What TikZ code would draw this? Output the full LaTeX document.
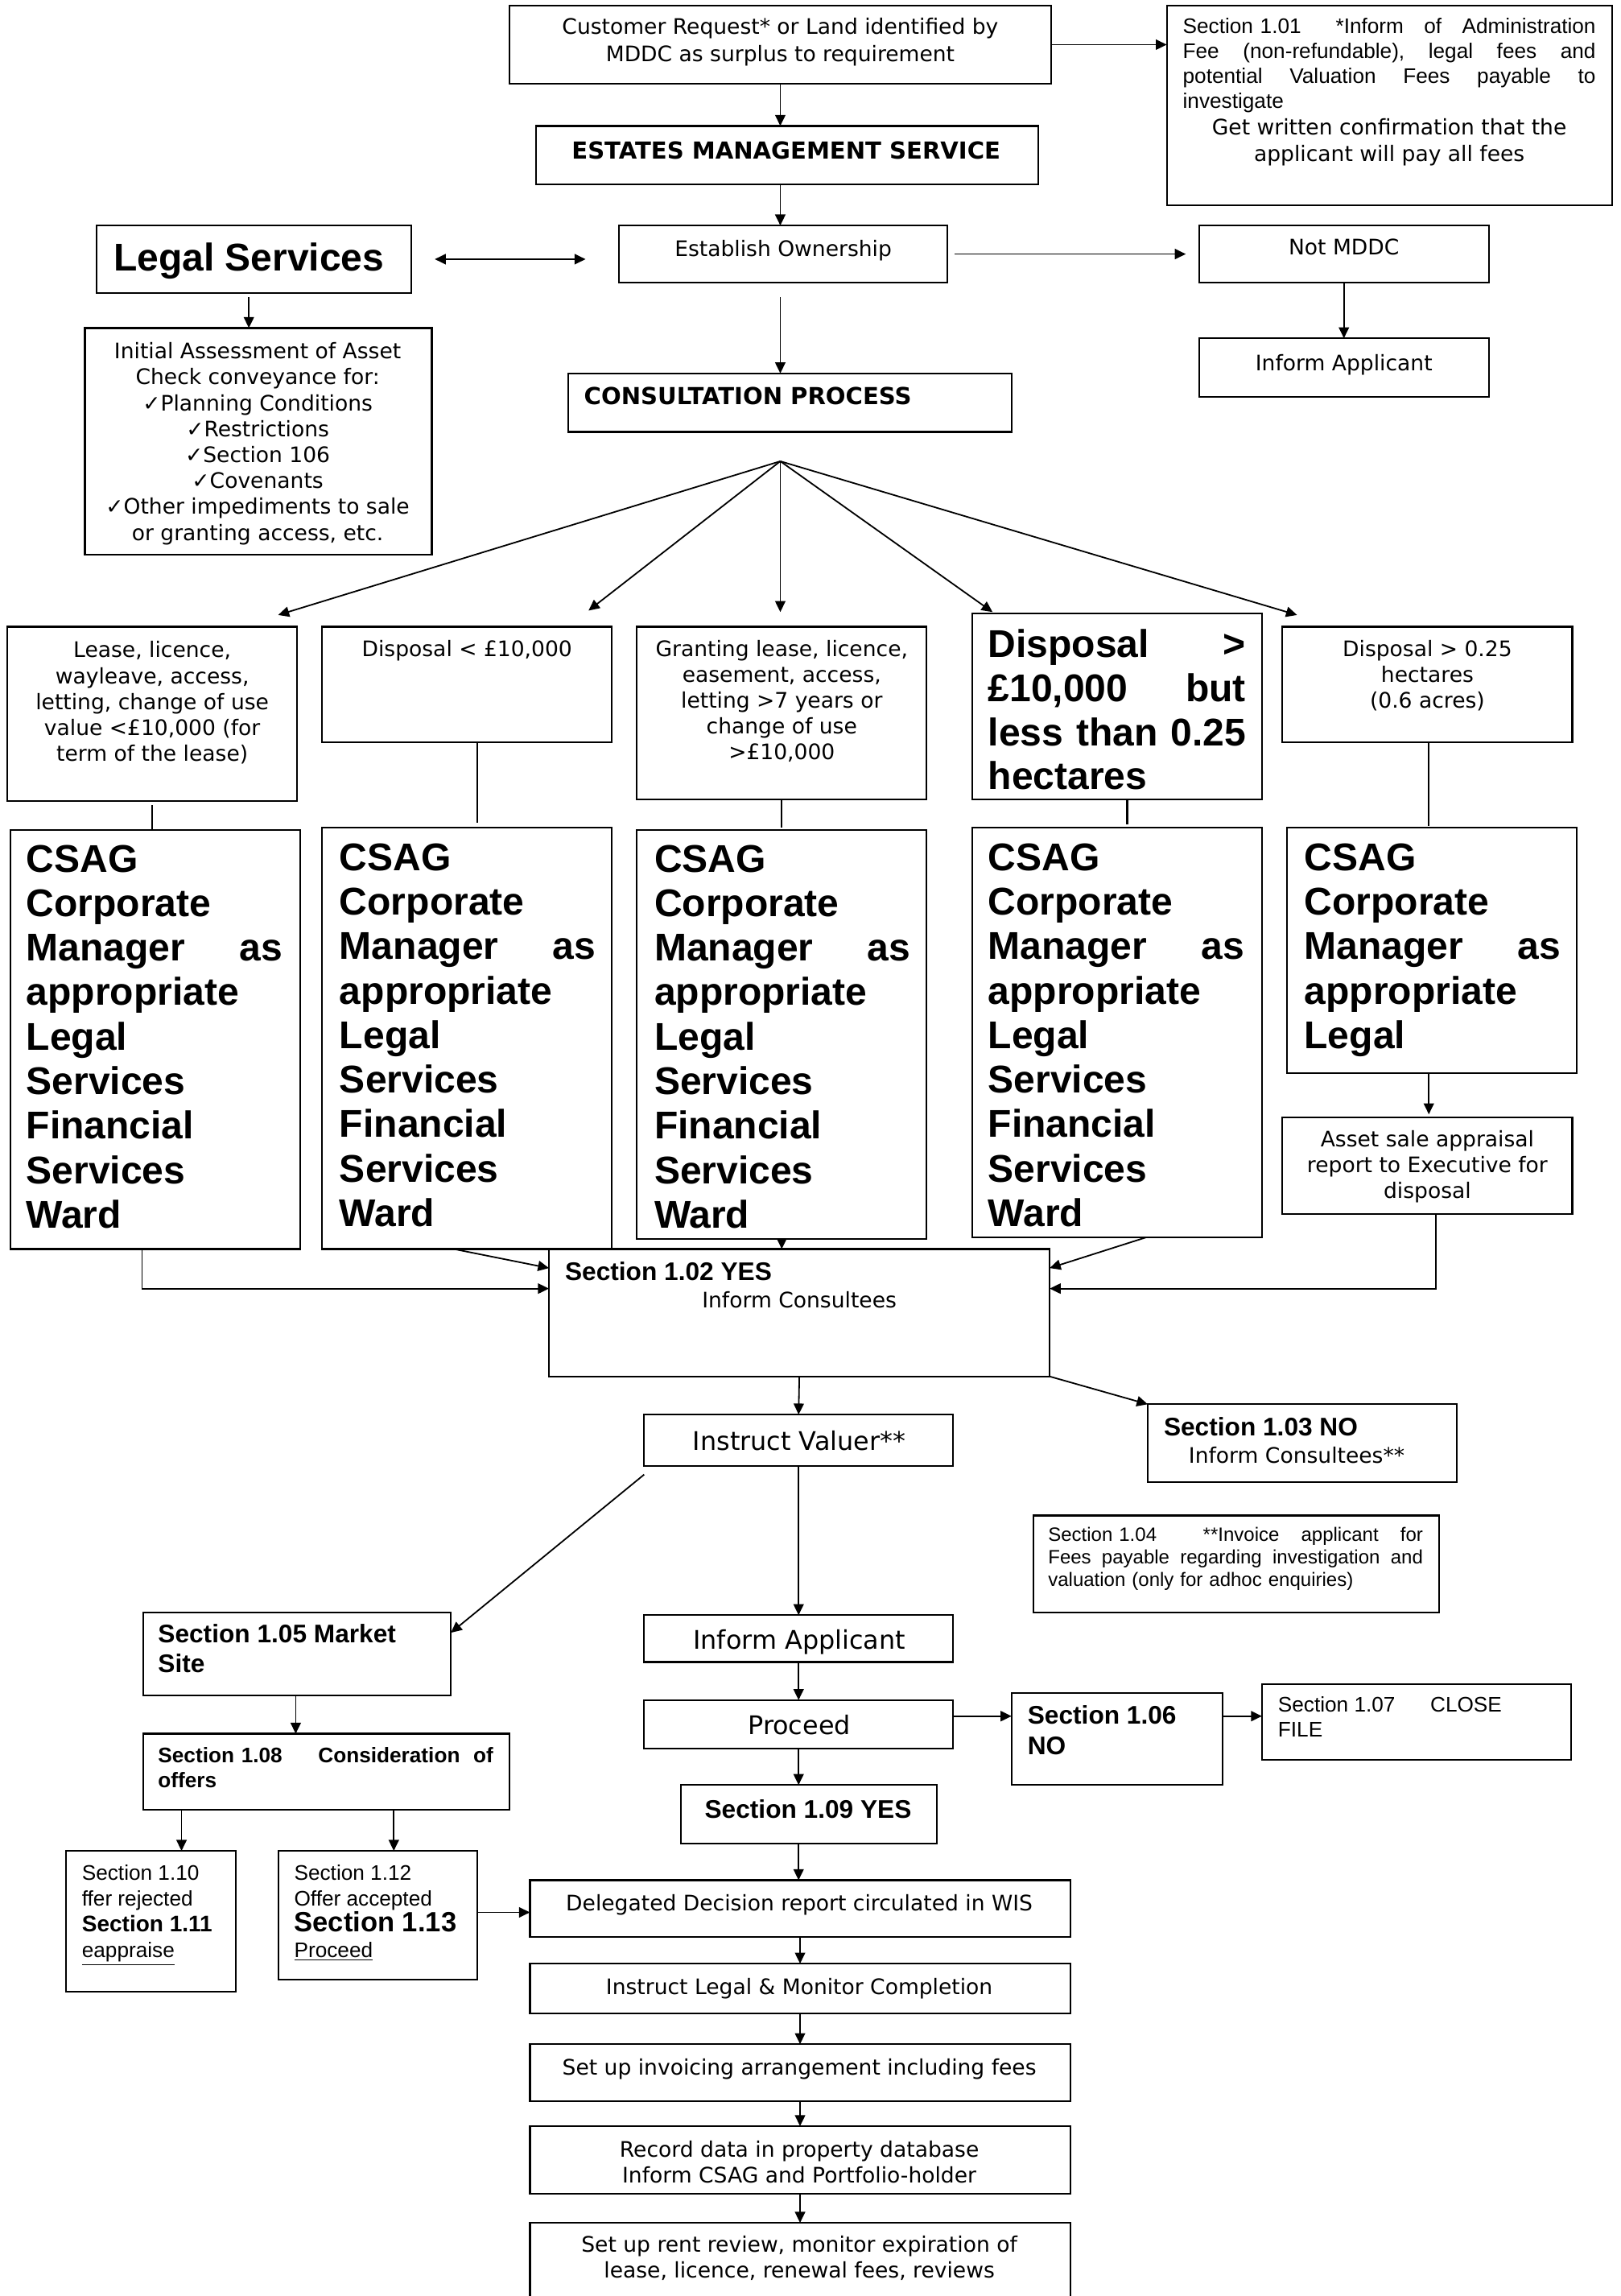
\documentclass[tikz,border=0pt]{standalone}
\usepackage{fontspec}
\setmainfont{DejaVu Sans}
\newfontfamily\arialf{Liberation Sans}
\usetikzlibrary{arrows.meta}
\newcommand\fv{\fontsize{14.6}{17.7}\selectfont}
\newcommand\fvb{\bfseries\fontsize{16}{19}\selectfont}
\newcommand\fvl{\fontsize{17.5}{21}\selectfont}
\newcommand\fa{\arialf\fontsize{14.4}{17}\selectfont}
\newcommand\fas{\arialf\fontsize{13.2}{15.5}\selectfont}
\newcommand\fab{\arialf\bfseries\fontsize{17.4}{20.5}\selectfont}
\newcommand\fabs{\arialf\bfseries\fontsize{14.4}{17}\selectfont}
\newcommand\fbig{\arialf\bfseries\fontsize{26.4}{30.4}\selectfont}
\newcommand\jw[2]{\makebox[#1][s]{#2}}
\newcommand\mgr{\jw{175pt}{Manager\hfill as}}
\newcommand\bx[5]{\node[boxs, minimum width=#4-#2, minimum height=#5-#3] (#1) at (#2,#3) {};}
\tikzset{
  boxs/.style={draw, line width=1.2pt, inner sep=0pt, outer sep=0pt, anchor=north west},
  txt/.style={inner sep=0pt, outer sep=0pt, anchor=north, align=center, font=\fv},
  txl/.style={inner sep=0pt, outer sep=0pt, anchor=north west, align=left, font=\fv},
  arr/.style={-{Triangle[length=7.5pt,width=7pt]}, line width=1pt},
  dbl/.style={{Triangle[length=7.5pt,width=7pt]}-{Triangle[length=7.5pt,width=7pt]}, line width=1.1pt},
  ln/.style={line width=0.9pt},
}
\begin{document}
\begin{tikzpicture}[x=1pt,y=-1pt]
\useasboundingbox (0,0) rectangle (1107,1568);
\clip (0,0) rectangle (1107,1568);
\fill[white] (0,0) rectangle (1107,1568);

% ---------- boxes ----------
\bx{cust}{348}{4}{718}{57}
\bx{sec101}{797}{4}{1101}{140}
\bx{ems}{366}{86}{709}{126}
\bx{estab}{423}{154}{647}{193}
\bx{legal}{66}{154}{281}{200}
\bx{notm}{819}{154}{1017}{193}
\bx{infa}{819}{231}{1017}{271}
\bx{initial}{58}{224}{295}{379}
\bx{consult}{388}{255}{691}{295}
\bx{b1}{5}{428}{203}{547}
\bx{b2}{220}{428}{418}{507}
\bx{b3}{435}{428}{633}{546}
\bx{b4}{664}{419}{862}{546}
\bx{b5}{876}{428}{1074}{507}
\bx{c1}{7}{567}{205}{853}
\bx{c2}{220}{565}{418}{853}
\bx{c3}{435}{567}{633}{846}
\bx{c4}{664}{565}{862}{845}
\bx{c5}{879}{565}{1077}{733}
\bx{asset}{876}{763}{1074}{829}
\bx{s102}{375}{853}{717}{940}
\bx{valuer}{440}{966}{651}{1001}
\bx{s103}{784}{959}{995}{1012}
\bx{s104}{706}{1035}{983}{1101}
\bx{s105}{98}{1101}{308}{1158}
\bx{infb}{440}{1103}{651}{1135}
\bx{proceed}{440}{1161}{651}{1194}
\bx{s106}{691}{1156}{835}{1219}
\bx{s107}{862}{1150}{1073}{1202}
\bx{s109}{465}{1219}{640}{1259}
\bx{s108}{98}{1184}{348}{1236}
\bx{s110}{45}{1264}{161}{1360}
\bx{s112}{190}{1264}{326}{1352}
\bx{deleg}{362}{1284}{731}{1323}
\bx{ilegal}{362}{1341}{731}{1375}
\bx{invoice}{362}{1396}{731}{1435}
\bx{record}{362}{1452}{731}{1498}
\bx{rent}{362}{1518}{731}{1580}

% ---------- texts ----------
\node[txt, font={\fontsize{14.6}{18.8}\selectfont}] (tcust) at (533,12) {Customer Request* or Land identified by\\MDDC as surplus to requirement};
\node[txl, text width=282pt, font=\fa] (t101a) at (808,12.5) {\jw{282pt}{Section 1.01\hspace{1em}\hfill *Inform \hfill of \hfill Administration}\\\jw{282pt}{Fee \hfill (non-refundable), \hfill legal \hfill fees \hfill and}\\\jw{282pt}{potential \hfill Valuation \hfill Fees \hfill payable \hfill to}\\investigate};
\node[txt, font={\fontsize{14.6}{18}\selectfont}] (t101b) at (949,81) {Get written confirmation that the\\applicant will pay all fees};
\node[txt, font=\fvb] (tems) at (537,96.5) {ESTATES MANAGEMENT SERVICE};
\node[txt] (testab) at (535,164) {Establish Ownership};
\node[txt, font=\fbig] (tlegal) at (170,166) {Legal Services};
\node[txt] (tnotm) at (918,163) {Not MDDC};
\node[txt] (tinfa) at (918,242) {Inform Applicant};
\node[txt] (tinit) at (176,234) {Initial Assessment of Asset\\Check conveyance for:\\✓Planning Conditions\\✓Restrictions\\✓Section 106\\✓Covenants\\✓Other impediments to sale\\or granting access, etc.};
\node[txl, font=\fvb] (tconsult) at (399,264.5) {CONSULTATION PROCESS};

\node[txt] (tb1) at (104,438) {Lease, licence,\\wayleave, access,\\letting, change of use\\value <£10,000 (for\\term of the lease)};
\node[txt] (tb2) at (319,437) {Disposal < £10,000};
\node[txt] (tb3) at (534,437) {Granting lease, licence,\\easement, access,\\letting >7 years or\\change of use\\>£10,000};
\node[txl, text width=176pt, font={\fbig\fontsize{26.4}{30}\selectfont}] (tb4) at (675,430) {\jw{176pt}{Disposal \hfill >}\\\jw{176pt}{£10,000 \hfill but}\\\jw{176pt}{less \hfill than \hfill 0.25}\\hectares};
\node[txt] (tb5) at (975,437) {Disposal > 0.25\\hectares\\(0.6 acres)};

\node[txl, text width=175pt, font=\fbig] (tc1) at (18,577) {CSAG\\Corporate\\\mgr\\appropriate\\Legal\\Services\\Financial\\Services\\Ward};
\node[txl, text width=175pt, font=\fbig] (tc2) at (232,576) {CSAG\\Corporate\\\mgr\\appropriate\\Legal\\Services\\Financial\\Services\\Ward};
\node[txl, text width=175pt, font=\fbig] (tc3) at (447,577) {CSAG\\Corporate\\\mgr\\appropriate\\Legal\\Services\\Financial\\Services\\Ward};
\node[txl, text width=175pt, font=\fbig] (tc4) at (675,576) {CSAG\\Corporate\\\mgr\\appropriate\\Legal\\Services\\Financial\\Services\\Ward};
\node[txl, text width=175pt, font=\fbig] (tc5) at (891,576) {CSAG\\Corporate\\\mgr\\appropriate\\Legal};
\node[txt] (tasset) at (975,772) {Asset sale appraisal\\report to Executive for\\disposal};

\node[txl, font=\fab] (t102) at (386,862) {Section 1.02 YES};
\node[txt] (t102b) at (546,882) {Inform Consultees};
\node[txt, font=\fvl] (tvaluer) at (546,977) {Instruct Valuer**};
\node[txl, font=\fab] (t103) at (795,968) {Section 1.03 NO};
\node[txl] (t103b) at (812,988) {Inform Consultees**};
\node[txl, text width=256pt, font=\fas] (t104) at (716,1043) {\jw{256pt}{Section 1.04\hspace{1.6em}\hfill **Invoice \hfill applicant \hfill for}\\\jw{256pt}{Fees \hfill payable \hfill regarding \hfill investigation \hfill and}\\valuation (only for adhoc enquiries)};
\node[txl, font=\fab] (t105) at (108,1109) {Section 1.05 Market\\Site};
\node[txt, font=\fvl] (tinfb) at (546,1113) {Inform Applicant};
\node[txt, font=\fvl] (tproceed) at (546,1171) {Proceed};
\node[txl, font=\fab] (t106) at (702,1165) {Section 1.06\\NO};
\node[txl, font=\fa] (t107) at (873,1158.5) {Section 1.07\hspace{24pt}CLOSE\\FILE};
\node[txt, font=\fab] (t109) at (552,1229) {Section 1.09 YES};
\node[txl, text width=229pt, font=\fabs] (t108) at (108,1193.5) {\jw{229pt}{Section 1.08\hspace{1.4em}\hfill Consideration \hfill of}\\offers};
\node[txl, font={\arialf\fontsize{14.4}{17.7}\selectfont}] (t110) at (56,1273.5) {Section 1.10\\ffer rejected\\{\bfseries\fontsize{15.4}{17.7}\selectfont Section 1.11}\\\underline{eappraise}};
\node[txl, font={\arialf\fontsize{14.4}{17.7}\selectfont}] (t112) at (201,1273.5) {Section 1.12\\Offer accepted\\{\bfseries\fontsize{19}{19.5}\selectfont Section 1.13}\\\underline{Proceed}};
\node[txt] (tdeleg) at (546,1294) {Delegated Decision report circulated in WIS};
\node[txt] (tilegal) at (546,1351) {Instruct Legal \& Monitor Completion};
\node[txt] (tinvoice) at (546,1406) {Set up invoicing arrangement including fees};
\node[txt] (trecord) at (546,1462) {Record data in property database\\Inform CSAG and Portfolio-holder};
\node[txt] (trent) at (546,1527) {Set up rent review, monitor expiration of\\lease, licence, renewal fees, reviews};

% ---------- connectors ----------
\draw[arr] (cust.east) -- (cust.east -| sec101.west);
\draw[arr] (cust.south) -- (cust.south |- ems.north);
\draw[arr] (ems.south -| cust.south) -- (estab.north -| cust.south);
\draw[arr] ([yshift=-10]estab.south -| cust.south) -- (consult.north -| cust.south);
\draw[arr] ([xshift=5]estab.east) -- ([xshift=-9]notm.west);
\draw[dbl] ([xshift=16]legal.east) -- ([xshift=-23]legal.east -| estab.west);
\draw[arr] ([xshift=-3.5,yshift=-3]legal.south) -- ([xshift=-3.5]legal.south |- initial.north);
\draw[arr] (notm.south) -- (infa.north);

\coordinate (fan) at (533,315);
\coordinate (f1) at (190,420);
\coordinate (f2) at (402,417);
\coordinate (f3) at (533,418);
\coordinate (f4) at (678,418);
\coordinate (f5) at (886,420);
\foreach \f in {f1,f2,f3,f4,f5} \draw[arr] (fan) -- (\f);

\draw[ln] ([yshift=-3]b1.south) -- (b1.south |- c1.north);
\draw[ln] ([xshift=7]b2.south) -- ([xshift=7,yshift=3]b2.south |- c2.north);
\draw[ln] (b3.south) -- ([yshift=2]b3.south |- c3.north);
\draw[line width=1.2pt] ([xshift=7]b4.south) -- ([xshift=7,yshift=2]b4.south |- c4.north);
\draw[ln] ([xshift=1]b5.south) -- ([xshift=1,yshift=1]b5.south |- c5.north);
\draw[arr] ([xshift=-2]c5.south) -- ([xshift=-2,yshift=2]c5.south |- asset.north);

\draw[arr] ([xshift=-9]c1.south) |- ([yshift=16.5]s102.west);
\draw[arr] ([xshift=-9]c2.south) -- ([yshift=30.5]s102.west);
\draw[-{Triangle[length=7pt,width=6.5pt]}, line width=1pt] (c3.south) -- (c3.south |- s102.north);
\draw[arr] ([xshift=20]c4.south) -- ([yshift=30.5]s102.east);
\draw[arr] ([xshift=6]asset.south) |- ([yshift=16.5]s102.east);

\draw[arr] (s102.south) -- (valuer.north);
\draw[arr] (s102.south east) -- (s103.north west);
\draw[arr] ([yshift=-6]valuer.south west) -- ([yshift=-14]s105.north east);
\draw[arr] (valuer.south) -- (infb.north);
\draw[arr] (infb.south) -- (proceed.north);
\draw[arr] ([yshift=5.5]proceed.east) -- ([yshift=5.5]proceed.east -| s106.west);
\draw[arr] ([yshift=15.5]s106.east) -- ([yshift=15.5]s106.east -| s107.west);
\draw[arr] (proceed.south) -- (proceed.south |- s109.north);
\draw[arr] (proceed.south |- s109.south) -- (proceed.south |- deleg.north);
\draw[arr] ([xshift=-1]s105.south) -- ([xshift=-1]s105.south |- s108.north);
\draw[arr] (s108.south -| 124,0) -- (s110.north -| 124,0);
\draw[arr] (s108.south -| 269,0) -- (s112.north -| 269,0);
\draw[arr] ([yshift=2]s112.east) -- ([yshift=-2.5]deleg.west);
\draw[arr] (deleg.south) -- (ilegal.north);
\draw[arr] (ilegal.south) -- (invoice.north);
\draw[arr] (invoice.south) -- (record.north);
\draw[arr] (record.south) -- (rent.north);
\end{tikzpicture}
\end{document}
